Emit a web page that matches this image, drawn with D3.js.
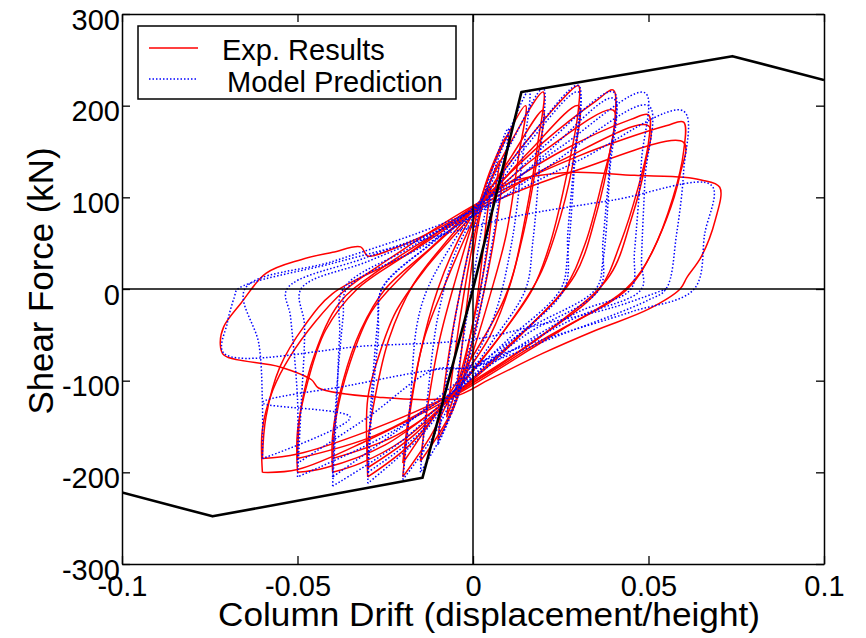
<!DOCTYPE html>
<html>
<head>
<meta charset="utf-8">
<script src="https://cdn.jsdelivr.net/npm/d3@7"></script>
<style>
  body { margin: 0; background: #fff; }
  text { font-family: "Liberation Sans", Arial, sans-serif; fill: #000; }
</style>
</head>
<body>
<svg id="chart" width="866" height="638"></svg>
<script>
// axis ticks
var xTicks = [-0.1, -0.05, 0, 0.05, 0.1];
var yTicks = [-300, -200, -100, 0, 100, 200, 300];
var legendLabels = ['Exp. Results', 'Model Prediction'];

// black envelope (drift, kN)
var backbone = [[-0.1, -222], [-0.0742, -248], [-0.0144, -206], [0, 0],
	[0.0138, 215], [0.0739, 254], [0.1, 228]];

var expCycles = [
	[[-0.005,-118],[-0.0035,-75],[-0.002,-25],[0,35],[0.002,80],[0.0035,100],[0.005,112],[0.004,80],[0.0025,30],[0.001,-15],[-0.001,-55],[-0.003,-92],[-0.005,-118]],
	[[-0.0075,-140],[-0.006,-95],[-0.004,-40],[-0.001,30],[0.002,85],[0.005,118],[0.0075,140],[0.006,100],[0.004,40],[0.001,-20],[-0.002,-70],[-0.005,-112],[-0.0075,-140]],
	[[-0.01,-165],[-0.0085,-115],[-0.006,-50],[-0.003,10],[0.001,80],[0.005,130],[0.01,168],[0.0085,120],[0.006,55],[0.003,-5],[-0.001,-70],[-0.005,-125],[-0.01,-165]],
	[[-0.015,-188],[-0.013,-130],[-0.0095,-55],[-0.005,10],[0.001,85],[0.007,145],[0.015,200],[0.013,145],[0.0095,60],[0.005,-5],[-0.001,-80],[-0.007,-140],[-0.015,-188]],
	[[-0.02,-205],[-0.0185,-150],[-0.015,-70],[-0.01,0],[-0.004,55],[0.002,95],[0.01,155],[0.02,215],[0.0185,160],[0.015,80],[0.011,10],[0.005,-50],[-0.006,-115],[-0.012,-160],[-0.02,-205]],
	[[-0.02,-190],[-0.018,-130],[-0.014,-55],[-0.008,5],[0.002,90],[0.011,145],[0.02,195],[0.018,135],[0.014,55],[0.009,-10],[-0.006,-110],[-0.013,-150],[-0.02,-190]],
	[[-0.03,-205],[-0.03,-170],[-0.028,-120],[-0.024,-55],[-0.017,5],[-0.008,50],[0.002,95],[0.015,160],[0.025,205],[0.03,222],[0.03,195],[0.027,130],[0.022,50],[0.017,0],[0.006,-60],[-0.006,-115],[-0.018,-170],[-0.03,-205]],
	[[-0.03,-195],[-0.03,-120],[-0.027,-75],[-0.022,-25],[-0.014,20],[0.002,90],[0.016,150],[0.03,200],[0.029,150],[0.025,80],[0.019,15],[0.008,-50],[-0.005,-112],[-0.017,-160],[-0.03,-195]],
	[[-0.04,-200],[-0.04,-160],[-0.037,-100],[-0.032,-45],[-0.025,0],[-0.012,45],[0.002,95],[0.02,160],[0.035,205],[0.04,217],[0.04,170],[0.037,120],[0.032,50],[0.026,0],[0.012,-55],[-0.006,-118],[-0.02,-165],[-0.032,-190],[-0.04,-200]],
	[[-0.04,-185],[-0.039,-140],[-0.035,-80],[-0.029,-25],[-0.02,15],[0.002,92],[0.02,150],[0.04,195],[0.039,150],[0.035,80],[0.029,15],[0.015,-45],[-0.005,-115],[-0.022,-160],[-0.04,-185]],
	[[-0.05,-200],[-0.05,-155],[-0.047,-100],[-0.042,-45],[-0.033,0],[-0.018,40],[0.002,95],[0.025,150],[0.045,185],[0.05,190],[0.05,160],[0.047,110],[0.042,50],[0.036,0],[0.02,-50],[-0.006,-118],[-0.025,-170],[-0.042,-195],[-0.05,-200]],
	[[-0.05,-185],[-0.049,-130],[-0.045,-70],[-0.038,-15],[-0.027,20],[0.002,90],[0.025,140],[0.05,178],[0.049,135],[0.045,75],[0.039,15],[0.025,-35],[-0.005,-112],[-0.028,-160],[-0.05,-185]],
	[[-0.06,-200],[-0.06,-153],[-0.057,-110],[-0.052,-73],[-0.045,-36],[-0.037,-3],[-0.025,30],[0.002,95],[0.03,145],[0.055,178],[0.06,182],[0.06,150],[0.057,100],[0.051,40],[0.044,0],[0.025,-45],[-0.006,-118],[-0.03,-165],[-0.05,-197],[-0.06,-200]],
	[[-0.06,-185],[-0.059,-140],[-0.055,-85],[-0.048,-40],[-0.04,-5],[-0.02,35],[0.002,88],[0.03,130],[0.06,160],[0.059,125],[0.055,75],[0.048,20],[0.042,-5],[0.02,-55],[-0.006,-115],[-0.03,-155],[-0.05,-180],[-0.06,-185]],
	[[0.002,92],[0.0105,116],[0.027,127],[0.046,124],[0.06,122],[0.065,119],[0.0703,111],[0.069,75],[0.065,35],[0.061,13],[0.059,0],[0.05,-22],[0.035,-45],[0.02,-70],[0.005,-98],[-0.006,-118],[-0.027,-118],[-0.044,-108],[-0.046,-99],[-0.055,-85],[-0.071,-72],[-0.072,-60],[-0.071,-41],[-0.066,-15],[-0.059,17],[-0.049,32],[-0.04,40],[-0.032,46],[-0.03,36],[-0.024,42],[-0.012,62],[0.002,92]]
];

// model loops (drift, kN)
var modelCycles = [
	[[-0.005,-110],[-0.003,-60],[0,10],[0.003,75],[0.005,105],[0.0045,70],[0.003,20],[0,-50],[-0.003,-90],[-0.005,-110]],
	[[-0.01,-170],[-0.008,-110],[-0.005,-30],[0,60],[0.005,125],[0.01,175],[0.008,115],[0.005,40],[0,-60],[-0.005,-125],[-0.01,-170]],
	[[-0.015,-200],[-0.013,-120],[-0.01,-30],[-0.005,40],[0.003,100],[0.009,160],[0.016,217],[0.014,140],[0.011,50],[0.006,-30],[-0.004,-110],[-0.009,-160],[-0.015,-200]],
	[[-0.02,-208],[-0.018,-130],[-0.016,-40],[-0.013,0],[-0.005,55],[0.003,100],[0.011,160],[0.02,219],[0.019,140],[0.017,50],[0.015,0],[0.005,-60],[-0.005,-115],[-0.012,-165],[-0.02,-208]],
	[[-0.03,-212],[-0.029,-140],[-0.027,-50],[-0.026,0],[-0.012,50],[0.003,100],[0.015,160],[0.03,222],[0.029,150],[0.027,60],[0.026,0],[0.01,-60],[-0.005,-115],[-0.016,-165],[-0.03,-212]],
	[[-0.03,-200],[-0.029,-120],[-0.027,-30],[-0.026,0],[-0.01,55],[0.002,88],[0.015,155],[0.03,215],[0.029,140],[0.027,40],[0.025,0],[0.01,-55],[-0.004,-105],[-0.016,-160],[-0.03,-200]],
	[[-0.04,-215],[-0.039,-140],[-0.038,-50],[-0.037,0],[-0.018,45],[0.003,95],[0.02,155],[0.04,215],[0.039,140],[0.037,50],[0.036,0],[0.015,-50],[-0.005,-110],[-0.02,-165],[-0.04,-215]],
	[[-0.04,-205],[-0.039,-120],[-0.037,-30],[-0.036,0],[-0.015,45],[0.002,85],[0.02,145],[0.04,208],[0.039,130],[0.037,30],[0.035,0],[0.015,-45],[-0.004,-100],[-0.02,-150],[-0.04,-205]],
	[[-0.05,-205],[-0.049,-130],[-0.048,-40],[-0.049,0],[-0.03,30],[-0.012,60],[0.003,95],[0.025,155],[0.049,214],[0.048,140],[0.046,40],[0.045,0],[0.03,-25],[0.01,-70],[-0.005,-110],[-0.025,-160],[-0.05,-205]],
	[[-0.05,-190],[-0.05,-120],[-0.052,-30],[-0.053,0],[-0.03,35],[0,80],[0.02,130],[0.05,200],[0.049,120],[0.048,30],[0.048,0],[0.03,-30],[0,-85],[-0.011,-88],[-0.03,-140],[-0.05,-190]],
	[[-0.06,-185],[-0.06,-124],[-0.061,-60],[-0.065,0],[-0.04,30],[-0.015,62],[0.003,90],[0.03,140],[0.06,194],[0.06,128],[0.058,60],[0.055,0],[0.05,-12],[0.025,-50],[0,-85],[-0.011,-88],[-0.035,-105],[-0.06,-124],[-0.035,-140],[-0.06,-185]],
	[[0.055,0],[0.04,-20],[0.02,-38],[0,-55],[-0.03,-62],[-0.071,-70],[-0.07,-37],[-0.068,-9],[-0.067,0],[-0.04,28],[-0.02,48],[0,68],[0.013,80],[0.04,97],[0.068,113],[0.066,60],[0.063,0],[0.045,-25],[0.02,-55],[-0.002,-85]]
];

var svg = d3.select('#chart'),
	pLeft = 122, pRight = 824, pTop = 14, pBottom = 564;

var x = d3.scaleLinear().domain([-0.1, 0.1]).range([pLeft, pRight]);
var y = d3.scaleLinear().domain([-300, 300]).range([pBottom, pTop]);

svg.append('defs').append('clipPath').attr('id', 'plot')
	.append('rect')
	.attr('x', pLeft).attr('y', pTop)
	.attr('width', pRight - pLeft).attr('height', pBottom - pTop);

var line = d3.line()
	.x(function (d) { return x(d[0]); })
	.y(function (d) { return y(d[1]); })
	.curve(d3.curveCatmullRom.alpha(0.5));

var plot = svg.append('g').attr('clip-path', 'url(#plot)');

plot.selectAll('path.exp')
	.data(expCycles)
	.enter().append('path')
	.attr('class', 'exp')
	.attr('d', line)
	.attr('fill', 'none')
	.attr('stroke', '#ff0000')
	.attr('stroke-width', 1.5);

plot.selectAll('path.model')
	.data(modelCycles)
	.enter().append('path')
	.attr('class', 'model')
	.attr('d', line)
	.attr('fill', 'none')
	.attr('stroke', '#0000ff')
	.attr('stroke-width', 1.5)
	.attr('stroke-dasharray', '1.5,2');

// zero lines
plot.append('line')
	.attr('x1', x(0)).attr('x2', x(0)).attr('y1', pTop).attr('y2', pBottom)
	.attr('stroke', '#000').attr('stroke-width', 1.5);
plot.append('line')
	.attr('x1', pLeft).attr('x2', pRight).attr('y1', y(0)).attr('y2', y(0))
	.attr('stroke', '#000').attr('stroke-width', 1.5);

plot.append('path')
	.datum(backbone)
	.attr('d', d3.line().x(function (d) { return x(d[0]); }).y(function (d) { return y(d[1]); }))
	.attr('fill', 'none')
	.attr('stroke', '#000')
	.attr('stroke-width', 2.6)
	.attr('stroke-linejoin', 'round');

// axes (inward ticks on all four sides)
function fmt(d) { return d === 0 ? '0' : String(d); }

var gx = svg.append('g').attr('transform', 'translate(0,' + pBottom + ')')
	.call(d3.axisBottom(x).tickValues(xTicks).tickFormat(fmt)
		.tickSizeInner(-8).tickSizeOuter(0).tickPadding(11));
var gy = svg.append('g').attr('transform', 'translate(' + pLeft + ',0)')
	.call(d3.axisLeft(y).tickValues(yTicks).tickFormat(fmt)
		.tickSizeInner(-8).tickSizeOuter(0).tickPadding(2));
var gt = svg.append('g').attr('transform', 'translate(0,' + pTop + ')')
	.call(d3.axisTop(x).tickValues(xTicks).tickFormat('')
		.tickSizeInner(-8).tickSizeOuter(0));
var gr = svg.append('g').attr('transform', 'translate(' + pRight + ',0)')
	.call(d3.axisRight(y).tickValues(yTicks).tickFormat('')
		.tickSizeInner(-8).tickSizeOuter(0));

[gx, gy, gt, gr].forEach(function (g) {
	g.selectAll('path.domain').attr('stroke', '#000').attr('stroke-width', 1.5);
	g.selectAll('.tick line').attr('stroke', '#000').attr('stroke-width', 1.3);
});

gx.selectAll('text')
	.attr('font-family', '"Liberation Sans", Arial, sans-serif')
	.attr('font-size', 29).attr('fill', '#000');
gy.selectAll('text')
	.attr('font-family', '"Liberation Sans", Arial, sans-serif')
	.attr('font-size', 29).attr('fill', '#000')
	.attr('dy', '0.52em');

// axis titles
svg.append('text')
	.attr('x', 489).attr('y', 626)
	.attr('text-anchor', 'middle')
	.attr('font-size', 33)
	.attr('textLength', 542)
	.attr('lengthAdjust', 'spacingAndGlyphs')
	.text('Column Drift (displacement/height)');

svg.append('text')
	.attr('transform', 'translate(53,281) rotate(-90)')
	.attr('text-anchor', 'middle')
	.attr('font-size', 35)
	.attr('textLength', 267)
	.attr('lengthAdjust', 'spacingAndGlyphs')
	.text('Shear Force (kN)');

// legend
var legend = svg.append('g');
legend.append('rect')
	.attr('x', 138).attr('y', 26).attr('width', 318).attr('height', 73)
	.attr('fill', '#fff').attr('stroke', '#000').attr('stroke-width', 1.5);
legend.append('line')
	.attr('x1', 149).attr('x2', 198).attr('y1', 48).attr('y2', 48)
	.attr('stroke', '#ff0000').attr('stroke-width', 1.5);
legend.append('line')
	.attr('x1', 149).attr('x2', 198).attr('y1', 79).attr('y2', 79)
	.attr('stroke', '#0000ff').attr('stroke-width', 1.5)
	.attr('stroke-dasharray', '1.5,2');
legend.append('text').attr('x', 222).attr('y', 60)
	.attr('font-size', 29).text(legendLabels[0]);
legend.append('text').attr('x', 227).attr('y', 92)
	.attr('font-size', 29).text(legendLabels[1]);
</script>
</body>
</html>
